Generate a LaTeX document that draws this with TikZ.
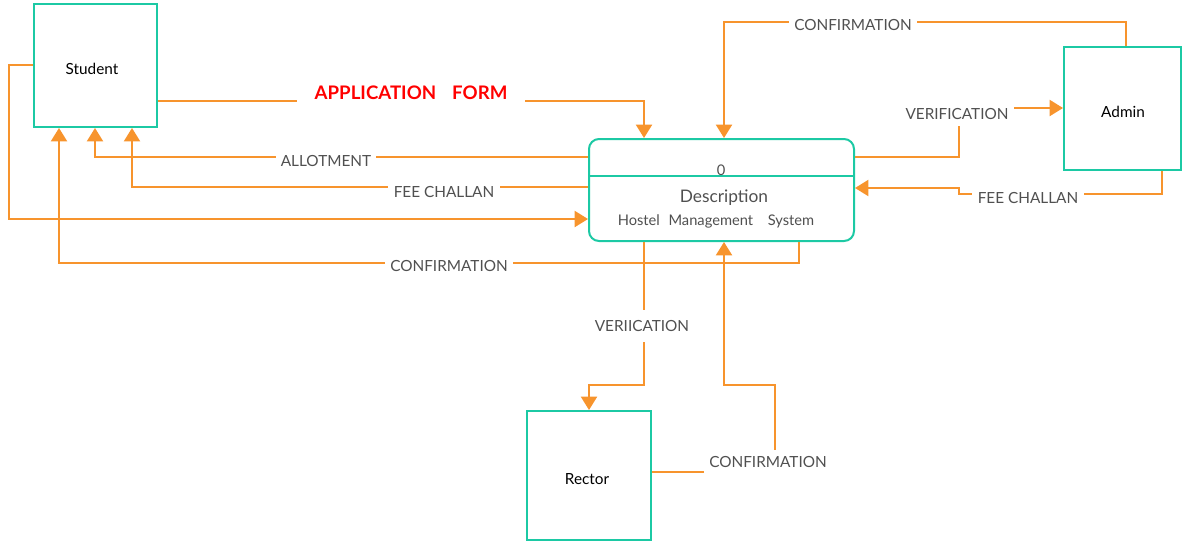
\documentclass[tikz,border=0pt]{standalone}
\usepackage{fontspec}
\setmainfont{Lato}
\usetikzlibrary{arrows.meta}
\definecolor{teal1}{RGB}{28,201,164}
\definecolor{flowc}{RGB}{247,148,45}
\definecolor{labc}{RGB}{80,80,80}
\begin{document}
\begin{tikzpicture}[x=0.75pt,y=-0.75pt,
  entity/.style={draw=teal1, line width=1.5pt, fill=white, inner sep=0pt},
  etext/.style={inner sep=0pt, font=\fontsize{11.5}{13}\selectfont},
  procbox/.style={draw=teal1, line width=1.5pt, fill=white, rounded corners=7.5pt, minimum width=198.75pt, minimum height=76.5pt, inner sep=0pt},
  flow/.style={draw=flowc, line width=1.5pt, -{Triangle[length=10pt,width=12pt]}},
  lab/.style={fill=white, text=labc, font=\fontsize{11.5}{13}\selectfont, inner xsep=4pt, inner ysep=5pt},
  ptext/.style={text=labc, inner sep=0pt}
]
\useasboundingbox (0,0) rectangle (1194,544);
% entities
\node[entity, minimum width=92.25pt, minimum height=92.25pt] (student) at (95.5,65.5) {};
\node[etext] (tstudent) at (92,69) {Student};
\node[entity, minimum width=87.75pt, minimum height=92.25pt] (admin) at (1122.5,108.5) {};
\node[etext] (tadmin) at (1123,112) {Admin};
\node[entity, minimum width=93pt, minimum height=96.75pt] (rector) at (589,475.5) {};
\node[etext] (trector) at (587,479) {Rector};
% process
\node[procbox] (proc) at (721.5,190) {};
\draw[teal1, line width=1.5pt] (proc.west |- 0,176) -- (proc.east |- 0,176);
\node[ptext, font=\fontsize{11}{12}\selectfont] (pid) at (721,170) {0};
\node[ptext, font=\fontsize{13}{15}\selectfont] (pdesc) at (724,198) {Description};
\node[ptext, font=\fontsize{11}{12}\selectfont] (pname) at (716,221) {Hostel\hspace{6.5pt}Management\hspace{11pt}System};
% connectors
\draw[flow] (student.east |- 0,101) -| (644,0 |- proc.north);
\draw[flow] (proc.west |- 0,157) -| (95,0 |- student.south);
\draw[flow] (proc.west |- 0,187) -| (132,0 |- student.south);
\draw[flow] (student.west |- 0,65) -| (9,219) -- (proc.west |- 0,219);
\draw[flow] (799,0 |- proc.south) |- (59,263) -- (59,0 |- student.south);
\draw[flow] (1126,0 |- admin.north) |- (724,22) -- (724,0 |- proc.north);
\draw[flow] (proc.east |- 0,157) -| (959,108) -- (admin.west |- 0,108);
\draw[flow] (1162,0 |- admin.south) |- (959,194) |- (proc.east |- 0,188);
\draw[flow] (644,0 |- proc.south) |- (589,385) -- (rector.north);
\draw[flow] (rector.east |- 0,472) -| (775,385) -| (724,0 |- proc.south);
% labels
\node[lab, text=red, font=\bfseries\fontsize{14}{16}\selectfont, inner xsep=13pt] (lapp) at (411,93) {APPLICATION\hspace{12pt}FORM};
\node[lab] (lallot) at (326,161) {ALLOTMENT};
\node[lab] (lfee1) at (444,192) {FEE CHALLAN};
\node[lab] (lconf1) at (449,266) {CONFIRMATION};
\node[lab] (lconf2) at (853,25) {CONFIRMATION};
\node[lab] (lver) at (957,114) {VERIFICATION};
\node[lab] (lfee2) at (1028,198) {FEE CHALLAN};
\node[lab, inner ysep=8pt] (lver2) at (642,326) {VERIICATION};
\node[lab] (lconf3) at (768,462) {CONFIRMATION};
\end{tikzpicture}
\end{document}
